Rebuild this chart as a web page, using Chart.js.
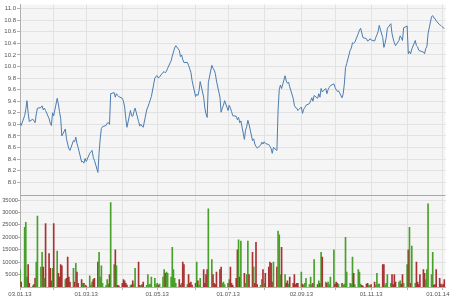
<!DOCTYPE html>
<html>
<head>
<meta charset="utf-8">
<script src="https://cdn.jsdelivr.net/npm/chart.js@4/dist/chart.umd.min.js"></script>
<style>
  html, body { margin: 0; padding: 0; background: #fff; }
  #wrap { width: 450px; height: 300px; }
</style>
</head>
<body>
<div id="wrap"><canvas id="myChart" width="450" height="300"></canvas></div>
<script>
// trading days run Mon-Fri from first to last day
const firstDay = '2013-01-03';
const lastDay = '2014-01-03';

// closing price, one per trading day (month per line)
const closePrices = [
  9.03, 8.98, 9.15, 9.26, 9.41, 9.20, 9.05, 9.09, 9.06, 9.03, 9.18, 9.28, 9.29, 9.32, 9.25, 9.28, 9.24, 9.10, 9.02, 8.98, 9.20,
  9.15, 9.45, 9.35, 9.22, 9.10, 8.80, 8.92, 8.75, 8.66, 8.58, 8.55, 8.72, 8.70, 8.78, 8.67, 8.60, 8.35, 8.36, 8.33, 8.41,
  8.36, 8.50, 8.53, 8.55, 8.43, 8.38, 8.17, 8.50, 8.75, 8.93, 8.96, 8.98, 9.02, 9.03, 9.00, 9.53, 9.55, 9.47, 9.53, 9.50, 9.48,
  9.45, 9.40, 9.30, 9.10, 8.95, 9.24, 9.15, 9.14, 9.22, 9.28, 9.05, 8.97, 9.00, 8.97, 8.95, 9.25, 9.30, 9.36, 9.42, 9.48, 9.80, 9.83,
  9.84, 9.80, 9.82, 9.90, 9.91, 9.89, 9.92, 9.97, 10.10, 10.18, 10.25, 10.32, 10.36, 10.28, 10.17, 10.20, 10.12, 10.07, 10.07, 10.02, 9.96, 9.90, 9.76,
  9.48, 9.52, 9.50, 9.58, 9.74, 9.47, 9.28, 9.18, 9.12, 9.72, 10.02, 9.97, 9.94, 9.88, 9.75, 9.47, 9.21, 9.28, 9.33, 9.41,
  9.24, 9.33, 9.28, 9.22, 9.15, 9.14, 9.08, 9.12, 9.03, 9.06, 8.74, 8.90, 8.96, 9.07, 9.00, 8.72, 8.75, 8.66, 8.62, 8.59, 8.64, 8.69, 8.66,
  8.70, 8.67, 8.65, 8.62, 8.58, 8.50, 8.60, 8.55, 9.25, 9.60, 9.68, 9.62, 9.84, 9.75, 9.71, 9.73, 9.65, 9.45, 9.33, 9.29, 9.28, 9.24,
  9.30, 9.19, 9.26, 9.29, 9.33, 9.36, 9.41, 9.46, 9.40, 9.50, 9.45, 9.53, 9.47, 9.62, 9.56, 9.62, 9.53, 9.60, 9.64, 9.67, 9.70,
  9.64, 9.60, 9.57, 9.58, 9.46, 9.53, 9.70, 9.98, 10.05, 10.28, 10.32, 10.41, 10.40, 10.42, 10.57, 10.63, 10.66, 10.58, 10.50, 10.48, 10.44, 10.45, 10.48,
  10.46, 10.44, 10.50, 10.55, 10.60, 10.71, 10.50, 10.33, 10.40, 10.50, 10.66, 10.74, 10.57, 10.48, 10.41, 10.36, 10.45, 10.53, 10.50, 10.45, 10.67,
  10.70, 10.22, 10.26, 10.22, 10.30, 10.45, 10.36, 10.34, 10.28, 10.27, 10.25, 10.22, 10.31, 10.34, 10.57, 10.86, 10.88, 10.84, 10.83, 10.79, 10.72, 10.71,
  10.69, 10.67, 10.66
];

// traded volume, one per trading day
const volumes = [
  7000, 2000, 24000, 26000, 4000, 9000, 1500, 500, 1000, 3500, 10000, 28500, 8000, 14000, 8000, 3500, 25500, 13500, 7500, 2500, 7500,
  25500, 14500, 5500, 4000, 9000, 8500, 3000, 3500, 12000, 4000, 2000, 7500, 2000, 9500, 6000, 1500, 3000, 1500, 1500, 800,
  500, 4500, 800, 2000, 3000, 3500, 10000, 14000, 4000, 8500, 1500, 600, 3000, 1200, 5000, 34000, 9000, 15000, 8500, 700, 500,
  1500, 3000, 2500, 1500, 800, 600, 900, 2500, 1200, 7500, 10000, 700, 600, 1000, 2000, 700, 5000, 1000, 1200, 4000, 3500, 1000,
  1500, 800, 1200, 4000, 7000, 5500, 6000, 5500, 4000, 16000, 7000, 3500, 1500, 3000, 800, 1500, 10000, 9000, 1000, 5000, 1500, 2000, 800,
  1500, 10000, 2500, 800, 3500, 7000, 1500, 5000, 7000, 31500, 11000, 5000, 1500, 1000, 6000, 7000, 8000, 1500, 2000, 1000,
  1500, 3000, 8000, 1500, 700, 3500, 15000, 19000, 4000, 18500, 5500, 1500, 5000, 18500, 5000, 14000, 8000, 1500, 18000, 1000, 700, 3000, 7000,
  1500, 5500, 8000, 10000, 9500, 2000, 10000, 8000, 22500, 21000, 5000, 16000, 5000, 1500, 2500, 1200, 4000, 1500, 5000, 1000, 1500, 1500,
  6000, 1200, 800, 1500, 3500, 1000, 4000, 1000, 1500, 11000, 1000, 2500, 1500, 14000, 12000, 2000, 1500, 2000, 1000, 4000, 15000,
  1200, 2000, 1500, 1000, 1500, 800, 1200, 20000, 6000, 1500, 1200, 12000, 5500, 1000, 7000, 6000, 1200, 700, 400, 1200, 1500, 800, 600,
  1000, 2000, 800, 5500, 1200, 1200, 9000, 9000, 800, 1500, 5000, 1500, 5000, 1000, 5000, 2000, 2000, 2500, 1200, 5000, 1500,
  9000, 15000, 24000, 1500, 16500, 1500, 10000, 2000, 1000, 5000, 7000, 5500, 3000, 7000, 33500, 5000, 14000, 800, 1000, 7000, 3500, 1200,
  600, 1200, 3000
];

const priceTicks = [8.0, 8.2, 8.4, 8.6, 8.8, 9.0, 9.2, 9.4, 9.6, 9.8, 10.0, 10.2, 10.4, 10.6, 10.8, 11.0];
const volumeTicks = [5000, 10000, 15000, 20000, 25000, 30000, 35000];

const DAY = 86400000;
const t0 = Date.parse(firstDay);
const t1 = Date.parse(lastDay);

// x values are days since firstDay
const tradingDays = [];
for (let t = t0; t <= t1; t += DAY) {
  const wd = new Date(t).getUTCDay();
  if (wd !== 0 && wd !== 6) tradingDays.push((t - t0) / DAY);
}

// first trading day of every month -> grid line, every second one labelled
const monthStarts = [];
let lastMonth = -1;
tradingDays.forEach(d => {
  const m = new Date(t0 + d * DAY).getUTCMonth();
  if (m !== lastMonth) { monthStarts.push(d); lastMonth = m; }
});

function fmt(d) {
  const dt = new Date(t0 + d * DAY);
  const two = n => String(n).padStart(2, '0');
  return two(dt.getUTCDate()) + '.' + two(dt.getUTCMonth() + 1) + '.' + two(dt.getUTCFullYear() % 100);
}

const upColor = '#48a02a';
const downColor = '#a83232';
const barColors = volumes.map((v, i) =>
  i === 0 || closePrices[i] >= closePrices[i - 1] ? upColor : downColor);

const gridColor = '#e2e2e2';
const axisColor = '#b0b0b0';

const plotBg = {
  id: 'plotBg',
  beforeDraw(chart) {
    const { ctx, chartArea: a } = chart;
    ctx.save();
    ctx.fillStyle = '#f5f5f5';
    ctx.fillRect(a.left, a.top, a.width, a.height);
    ctx.restore();
  },
  afterDatasetsDraw(chart) {
    const { ctx, chartArea: a } = chart;
    const y = Math.round(chart.scales.yPrice.bottom) + 0.5;
    ctx.save();
    ctx.strokeStyle = '#a8a8a8';
    ctx.lineWidth = 1;
    ctx.beginPath();
    ctx.moveTo(a.left, y);
    ctx.lineTo(a.right, y);
    ctx.stroke();
    ctx.restore();
  }
};

Chart.defaults.font.family = '"Liberation Sans", Arial, sans-serif';
Chart.defaults.font.size = 6;
Chart.defaults.color = '#555';

const ctx = document.getElementById('myChart').getContext('2d');
new Chart(ctx, {
  type: 'bar',
  data: {
    datasets: [
      {
        type: 'line',
        data: tradingDays.map((d, i) => ({ x: d, y: closePrices[i] })),
        yAxisID: 'yPrice',
        borderColor: '#4b7cb0',
        borderWidth: 1,
        pointRadius: 0,
        tension: 0
      },
      {
        type: 'bar',
        data: tradingDays.map((d, i) => ({ x: d, y: volumes[i] })),
        yAxisID: 'yVol',
        backgroundColor: barColors,
        barThickness: 1
      }
    ]
  },
  options: {
    responsive: false,
    animation: false,
    layout: { padding: { top: 4, right: 4.5, left: 0, bottom: 0 } },
    plugins: { legend: { display: false }, tooltip: { enabled: false } },
    scales: {
      x: {
        type: 'linear',
        min: 0,
        max: 366,
        offset: false,
        afterBuildTicks: s => { s.ticks = monthStarts.map(v => ({ value: v })); },
        afterFit: s => { s.height = 13; s.paddingLeft = 0; s.paddingRight = 0; },
        ticks: {
          autoSkip: false,
          maxRotation: 0,
          padding: 1,
          callback: (v, i) => {
            if (i % 2) return '';
            // keep the last label inside the canvas
            return fmt(v) + (i === monthStarts.length - 1 ? '\u00a0\u00a0\u00a0\u00a0\u00a0' : '');
          }
        },
        grid: { color: gridColor, offset: false, tickLength: 3, tickColor: axisColor },
        border: { color: axisColor }
      },
      yVol: {
        type: 'linear',
        position: 'left',
        stack: 'panes',
        stackWeight: 92,
        min: 0,
        max: 36950,
        afterBuildTicks: s => { s.ticks = volumeTicks.map(v => ({ value: v })); },
        afterFit: s => { s.width = 20; },
        ticks: { autoSkip: false, padding: 0, font: { size: 5.7 }, callback: v => String(v) },
        grid: { color: gridColor, tickLength: 2, tickColor: axisColor },
        border: { color: axisColor }
      },
      yPrice: {
        type: 'linear',
        position: 'left',
        stack: 'panes',
        stackWeight: 191,
        min: 7.776,
        max: 11.07,
        afterBuildTicks: s => { s.ticks = priceTicks.map(v => ({ value: v })); },
        afterFit: s => { s.width = 20; },
        ticks: { autoSkip: false, padding: 1, callback: v => v.toFixed(1) },
        grid: { color: gridColor, tickLength: 3, tickColor: axisColor },
        border: { color: axisColor }
      }
    }
  },
  plugins: [plotBg]
});
</script>
</body>
</html>
